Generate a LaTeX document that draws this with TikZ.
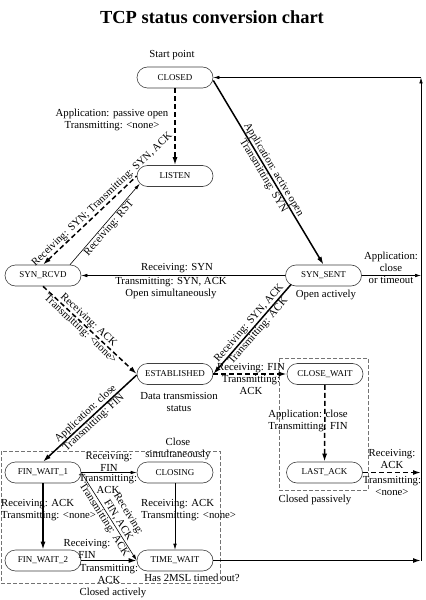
\documentclass[tikz,border=0pt]{standalone}
\usepackage{fontspec}
\setmainfont{Liberation Serif}
\usetikzlibrary{arrows.meta,calc}
\begin{document}
\begin{tikzpicture}[x=1bp,y=-1bp,
  state/.style={draw=black!75, line width=0.6bp, rounded corners=10.5bp, minimum width=76bp, minimum height=21bp, inner sep=0pt, font=\fontsize{9}{10}\selectfont},
  lbl/.style={font=\fontsize{10.8}{12}\selectfont, align=center, inner sep=1bp},
  thk/.style={line width=1.5bp, >={Latex[length=8bp,width=5bp]}},
  dsh/.style={thk, dash pattern=on 5bp off 3bp},
  thn/.style={line width=0.6bp, >={Latex[length=6bp,width=3.5bp]}},
  grpbox/.style={draw=black!55, dash pattern=on 4bp off 2bp, line width=0.8bp}
]
\useasboundingbox[fill=white] (0,0) rectangle (425,600);

% title
\node[font=\fontsize{18.5}{22}\selectfont\bfseries] (title) at (212,17) {TCP status conversion chart};

% group boxes
\draw[grpbox] (1,451) rectangle (220,583);
\draw[grpbox] (279,358) rectangle (368,490);

% states
\node[state] (closed) at (175,77.5) {CLOSED};
\node[state] (listen) at (175,176) {LISTEN};
\node[state] (synrcvd) at (43,275.5) {SYN\_RCVD};
\node[state] (synsent) at (323.5,275.5) {SYN\_SENT};
\node[state] (estab) at (175,374) {ESTABLISHED};
\node[state] (closewait) at (325,374) {CLOSE\_WAIT};
\node[state] (fw1) at (43,472.5) {FIN\_WAIT\_1};
\node[state] (closing) at (175,472.5) {CLOSING};
\node[state] (lastack) at (324.5,472.5) {LAST\_ACK};
\node[state] (fw2) at (43,560.5) {FIN\_WAIT\_2};
\node[state] (timewait) at (175,560.5) {TIME\_WAIT};

\coordinate (rsyn) at (421,275.5);
\coordinate (rlast) at (421,472.5);
\coordinate (rtime) at (421,560.5);
\coordinate (rtop) at (421,77.5);

% free texts
\node[lbl] (startpt) at (172,55) {Start point};
\node[lbl] (passive) at (112,120) {Application: passive open\\Transmitting: <none>};
\node[lbl] (recsyn) at (177,268) {Receiving: SYN};
\node[lbl] (trsyn) at (171,288) {Transmitting: SYN, ACK\\Open simultaneously};
\node[lbl] (appclose) at (391,268) {Application:\\close\\or timeout};
\node[lbl] (openact) at (326,295) {Open actively};
\node[lbl] (datatr) at (179,402) {Data transmission\\status};
\node[lbl] (recfin) at (251,379) {Receiving: FIN\\Transmitting:\\ACK};
\node[lbl] (closesim) at (178,449) {Close\\simultaneously};
\node[lbl] (cwlabel) at (308,421) {Application: close\\Transmitting: FIN};
\node[lbl] (closedpas) at (315,500) {Closed passively};
\node[lbl] (lastrec) at (392,459) {Receiving:\\ACK};
\node[lbl] (lasttr) at (392,486) {Transmitting:\\<none>};
\node[lbl] (fw1rec) at (109,462) {Receiving:\\FIN};
\node[lbl] (fw1tr) at (108,484) {Transmitting:\\ACK};
\node[lbl, align=left, anchor=west] (fw1ack) at (0,510.5) {Receiving: ACK\\Transmitting: <none>};
\node[lbl, align=left, anchor=west] (clack) at (140,510.5) {Receiving: ACK\\Transmitting: <none>};
\node[lbl] (fw2rec) at (87,548.5) {Receiving:\\FIN};
\node[lbl] (fw2tr) at (109,574) {Transmitting:\\ACK};
\node[lbl] (msl) at (192,578) {Has 2MSL timed out?};
\node[lbl] (closedact) at (113,593) {Closed actively};

% transitions
\draw[dsh,->] (closed) -- (listen);
\draw[thk,->] ([yshift=-3bp]closed.east) -- (synsent.north)
  node[lbl,midway,sloped] {Application: active open\\Transmitting: SYN};
\draw[dsh,<-] (synrcvd.north) -- (listen.west)
  node[lbl,pos=0.68,sloped,above] {Receiving: SYN; Transmitting: SYN, ACK};
\draw[thn,->] ([xshift=27bp]synrcvd.north) -- ([xshift=3bp,yshift=3bp]listen.south west)
  node[lbl,midway,sloped,below] {Receiving: RST};
\draw[thn,->] (synsent) -- (synrcvd);
\draw[dsh,->] (synrcvd.south) -- (estab.west)
  node[lbl,pos=0.44,sloped] {Receiving: ACK\\Transmitting: <none>};
\draw[thk,<-] (estab.east) -- ([xshift=6bp,yshift=2bp]synsent.south west)
  node[lbl,pos=0.52,sloped] {Receiving: SYN, ACK\\Transmitting: ACK};
\draw[dsh,->] (estab) -- (closewait);
\draw[thk,<-] (fw1.north) -- ([yshift=-1bp]estab.west)
  node[lbl,midway,sloped] {Application: close\\Transmitting: FIN};
\draw[dsh,->] (closewait) -- (lastack);
\draw[dsh,->] (lastack) -- (rlast);
\draw[thn,->] (fw1) -- (closing);
\draw[thk,->] (fw1) -- (fw2);
\draw[thn,->] (closing) -- (timewait);
\draw[thn,->] (fw1.east) -- (timewait.west)
  node[lbl,pos=0.58,sloped,above] {Receiving:\\FIN, ACK}
  node[lbl,pos=0.5,sloped,below] {Transmitting: ACK};
\draw[thk,->] (fw2) -- (timewait);
\draw[thk,->] (timewait) -- (rtime);
\draw[thn,->] (synsent) -- (rsyn);
\draw[thn,->] (rtime) -- (rtop);
\draw[thn,->] (rtop) -- (closed);
\end{tikzpicture}
\end{document}
